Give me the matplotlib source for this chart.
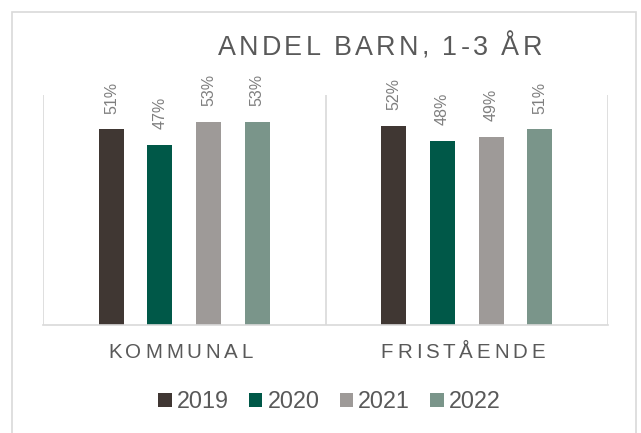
import numpy as np
import matplotlib
matplotlib.use('Agg')
import matplotlib.pyplot as plt
from matplotlib.font_manager import FontProperties
from matplotlib.patches import Patch, Rectangle

# data (percent)
categories = ['KOMMUNAL', 'FRISTÅENDE']
years = ['2019', '2020', '2021', '2022']
v2019 = [51, 52]
v2020 = [47, 48]
v2021 = [53, 49]
v2022 = [53, 51]
series = [v2019, v2020, v2021, v2022]
colors = ['#403733', '#005848', '#9e9a98', '#7a958a']

W, H = 641, 433
FONT = 'Liberation Sans'
TXT = '#595959'
GRID = '#d9d9d9'


def spaced_text(fig, cx, y, s, size, spacing, color):
    # matplotlib has no letter spacing, so place the characters one by one
    r = fig.canvas.get_renderer()
    prop = FontProperties(family=FONT, size=size)

    def w(t):
        return r.get_text_width_height_descent(t, prop, ismath=False)[0]

    base = w('||')
    adv = [w('|' + c + '|') - base for c in s]
    total = sum(adv) + spacing * (len(s) - 1)
    x = cx - total / 2
    for c, a in zip(s, adv):
        if c != ' ':
            fig.text((x + a / 2) / W, y / H, c, fontproperties=prop,
                     color=color, ha='center', va='baseline')
        x += a + spacing


fig = plt.figure(figsize=(W / 100, H / 100), dpi=100)
ax = fig.add_axes([43 / W, (H - 325) / H, 565 / W, 230 / H])

x = np.arange(len(categories))
bar_w = 0.0885
step = 0.1717
for i, (vals, col) in enumerate(zip(series, colors)):
    xs = x + (i - 1.5) * step
    ax.bar(xs, [v / 100 for v in vals], width=bar_w, color=col)
    for xi, v in zip(xs, vals):
        ax.annotate('%d%%' % v, (xi, v / 100), xytext=(0, 16),
                    textcoords='offset pixels', rotation=90,
                    ha='center', va='bottom', fontsize=11.5,
                    color='#7f7f7f', family=FONT)

ax.set_xlim(-0.5, len(categories) - 0.5)
ax.set_ylim(0, 0.6)
for b in np.arange(len(categories) + 1) - 0.5:
    ax.axvline(b, color=GRID, lw=1.2, zorder=0)
for s in ['top', 'right', 'left']:
    ax.spines[s].set_visible(False)
ax.spines['bottom'].set_color(GRID)
ax.spines['bottom'].set_linewidth(1.2)
ax.set_xticks([])
ax.set_yticks([])

# outer chart border
fig.patches.append(Rectangle((12 / W, -0.1), 624 / W, 1.1 - 12 / H,
                             transform=fig.transFigure, fill=False,
                             edgecolor=GRID, lw=1.2))

fig.canvas.draw()

# title
spaced_text(fig, 380, H - 55, 'ANDEL BARN, 1-3 ÅR', 19.4, 3.1, TXT)

# category labels
for i, c in enumerate(categories):
    cx = ax.transData.transform((i, 0))[0] - 4
    spaced_text(fig, cx, H - 358, c, 14.8, 3.8, TXT)

handles = [Patch(facecolor=c, edgecolor='none') for c in colors]
fig.legend(handles, years, loc='center',
           bbox_to_anchor=(329.5 / W, (H - 402) / H), ncol=4, frameon=False,
           prop=FontProperties(family=FONT, size=16.8), labelcolor=TXT,
           handlelength=0.57, handleheight=0.57, handletextpad=0.22,
           columnspacing=0.87, borderpad=0, borderaxespad=0)

fig.savefig('out.png', dpi=100)
